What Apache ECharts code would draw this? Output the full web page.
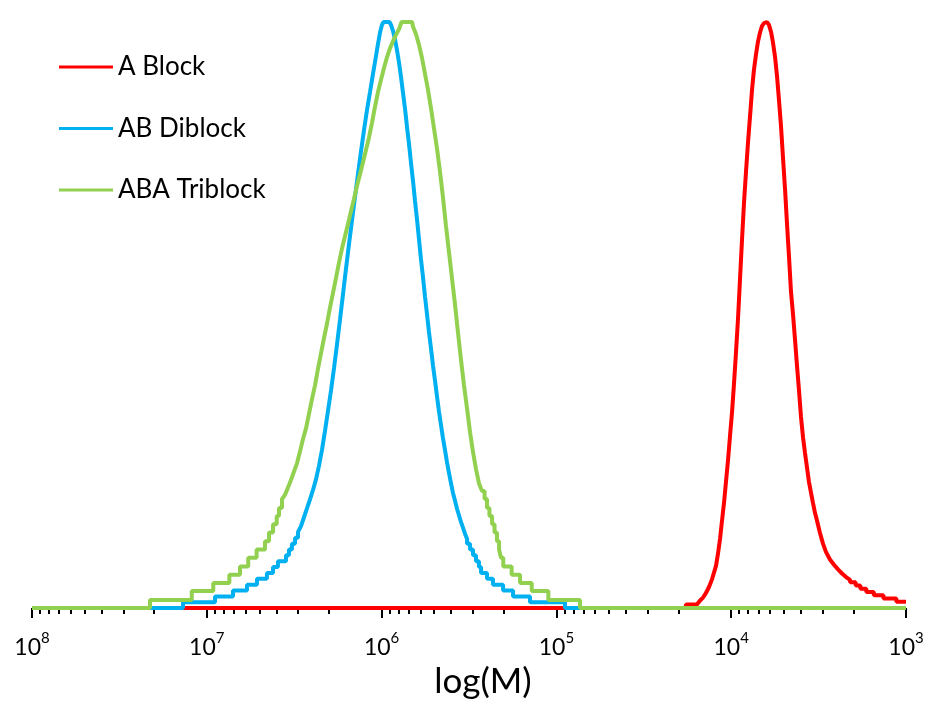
<!DOCTYPE html>
<html>
<head>
<meta charset="utf-8">
<script src="https://cdn.jsdelivr.net/npm/echarts@6/dist/echarts.min.js"></script>
<style>
  html, body { margin: 0; padding: 0; background: #ffffff; }
  #chart { width: 927px; height: 704px; }
</style>
</head>
<body>
<div id="chart"></div>
<script>
// Molecular weight distributions (GPC traces), normalised to the peak height.
const FONT = 'Lato, "Open Sans", sans-serif';

const seriesNames = ['A Block', 'AB Diblock', 'ABA Triblock'];
const seriesColors = ['#FF0000', '#00B0F0', '#92D050'];

// Decade exponents shown on the log(M) axis, and the minor-tick multipliers
const majorExponents = [8, 7, 6, 5, 4, 3];
const minorMultipliers = [2, 3, 4, 5, 6, 7, 8, 9];

// Each point: [log10(M), normalised signal in %]; repeated x values are detector steps
const aBlock = [
  [7.136, 0], [4.259, 0], [4.259, 0.6], [4.196, 0.6], [4.178, 1.3], [4.161, 1.8], [4.144, 2.6],
  [4.127, 3.6], [4.110, 4.9], [4.098, 6.1], [4.087, 7.2], [4.076, 9.2], [4.064, 11.8], [4.053, 14.8],
  [4.041, 18.0], [4.030, 21.5], [4.018, 25.3], [4.007, 29.3], [3.995, 33.5], [3.984, 38.3],
  [3.973, 43.4], [3.961, 49.4], [3.950, 55.9], [3.938, 62.9], [3.927, 69.0], [3.915, 74.6],
  [3.904, 79.4], [3.892, 84.0], [3.881, 88.4], [3.870, 91.8], [3.858, 94.5], [3.847, 96.6],
  [3.835, 98.2], [3.824, 99.3], [3.812, 99.8], [3.795, 100], [3.784, 99.5], [3.772, 98.3],
  [3.761, 96.5], [3.749, 94.0], [3.738, 90.8], [3.727, 86.8], [3.715, 82.2], [3.704, 77.0],
  [3.692, 71.5], [3.681, 65.7], [3.669, 59.8], [3.658, 54.0], [3.646, 50.0], [3.635, 45.8],
  [3.624, 41.5], [3.612, 37.1], [3.601, 32.7], [3.589, 29.1], [3.578, 26.5], [3.566, 23.9],
  [3.555, 21.5], [3.543, 19.6], [3.532, 17.9], [3.521, 16.3], [3.509, 14.9], [3.492, 12.8],
  [3.475, 11.0], [3.458, 9.6], [3.435, 8.3], [3.412, 7.4], [3.389, 6.6], [3.366, 5.9],
  [3.343, 5.3], [3.320, 4.8], [3.320, 4.4], [3.288, 4.4], [3.288, 3.85], [3.261, 3.85],
  [3.261, 3.3], [3.227, 3.3], [3.227, 2.75], [3.184, 2.75], [3.184, 2.2], [3.129, 2.2],
  [3.129, 1.65], [3.055, 1.65], [3.055, 1.1], [3.000, 1.1]
];

const abDiblock = [
  [8.000, 0], [7.136, 0], [7.136, 1], [6.953, 1], [6.953, 2], [6.850, 2], [6.850, 3], [6.770, 3],
  [6.770, 4], [6.713, 4], [6.713, 5], [6.656, 5], [6.656, 6], [6.621, 6], [6.621, 7], [6.593, 7],
  [6.593, 8], [6.547, 8], [6.547, 9], [6.530, 9], [6.530, 10], [6.513, 10], [6.513, 11], [6.495, 11],
  [6.495, 12], [6.478, 12], [6.478, 13],
  [6.461, 14], [6.444, 15.5], [6.427, 17], [6.410, 18.5], [6.392, 20.2], [6.375, 22], [6.358, 24.3],
  [6.341, 27], [6.324, 30.2], [6.307, 33.6], [6.289, 37.2], [6.272, 41], [6.255, 45], [6.238, 49.2],
  [6.221, 53.5], [6.204, 57.8], [6.187, 62], [6.169, 66.2], [6.152, 70.2], [6.135, 74.1],
  [6.118, 77.9], [6.101, 81.5], [6.084, 84.9], [6.066, 88.1], [6.049, 91.2], [6.032, 94.2],
  [6.021, 96.2], [6.009, 98.2], [5.998, 99.5], [5.989, 100], [5.955, 100], [5.946, 99.5],
  [5.935, 98.5], [5.923, 97.0], [5.912, 95.2], [5.900, 93.0], [5.889, 90.6], [5.878, 88.0],
  [5.866, 85.2], [5.855, 82.2], [5.843, 79.1], [5.832, 76.0], [5.820, 72.8], [5.809, 69.5],
  [5.797, 66.2], [5.786, 62.9], [5.775, 59.6], [5.763, 56.4], [5.752, 53.2], [5.740, 50.1],
  [5.729, 47.1], [5.717, 44.2], [5.706, 41.4], [5.694, 38.7], [5.683, 36.1], [5.672, 33.6],
  [5.660, 31.2], [5.649, 29.0], [5.637, 26.9], [5.626, 24.9], [5.614, 23.0], [5.603, 21.3],
  [5.592, 19.7], [5.580, 18.3], [5.569, 17.0], [5.557, 15.8], [5.546, 14.7], [5.534, 13.7],
  [5.523, 12.7], [5.511, 11.8],
  [5.511, 11], [5.494, 11], [5.494, 10], [5.477, 10], [5.477, 9], [5.460, 9], [5.460, 8],
  [5.443, 8], [5.443, 7], [5.431, 7], [5.431, 6], [5.397, 6], [5.397, 5], [5.363, 5], [5.363, 4],
  [5.305, 4], [5.305, 3], [5.248, 3], [5.248, 2], [5.151, 2], [5.151, 1], [4.951, 1], [4.951, 0],
  [4.865, 0]
];

const abaTriblock = [
  [8.000, 0], [7.325, 0], [7.325, 1.4], [7.086, 1.4], [7.086, 2.9], [6.963, 2.9], [6.963, 4.3],
  [6.871, 4.3], [6.871, 5.7], [6.810, 5.7], [6.810, 7.1], [6.763, 7.1], [6.763, 8.6], [6.715, 8.6],
  [6.715, 10.0], [6.667, 10.0], [6.667, 11.4], [6.644, 11.4], [6.644, 12.9], [6.621, 12.9],
  [6.621, 14.3], [6.600, 14.3], [6.600, 15.7], [6.587, 15.7], [6.587, 17.1], [6.570, 17.1],
  [6.570, 18.6],
  [6.553, 19.3], [6.535, 20.6], [6.518, 21.9], [6.501, 23.3], [6.484, 24.7], [6.467, 26.7],
  [6.450, 28.8], [6.432, 30.7], [6.415, 33.2], [6.398, 35.7], [6.381, 38.0], [6.364, 40.8],
  [6.347, 43.4], [6.330, 46.0], [6.312, 48.6], [6.295, 51.3], [6.278, 53.8], [6.261, 56.3],
  [6.244, 58.9], [6.227, 61.3], [6.209, 63.5], [6.192, 65.6], [6.175, 67.7], [6.158, 69.8],
  [6.141, 72.0], [6.124, 74.0], [6.106, 76.1], [6.089, 78.2], [6.072, 80.3], [6.055, 82.8],
  [6.038, 85.5], [6.021, 88.0], [6.003, 90.2], [5.986, 92.2], [5.969, 94.0], [5.952, 95.5],
  [5.935, 96.7], [5.918, 97.8], [5.900, 98.8], [5.886, 100], [5.826, 100], [5.820, 99.2],
  [5.803, 97.9], [5.786, 96.1], [5.769, 93.9], [5.752, 91.2], [5.735, 88.5], [5.717, 85.2],
  [5.700, 81.8], [5.683, 78.4], [5.666, 74.5], [5.649, 70.1], [5.632, 65.3], [5.614, 60.6],
  [5.597, 56.2], [5.580, 51.8], [5.563, 47.0], [5.546, 42.4], [5.529, 38.1], [5.511, 34.0],
  [5.494, 30.0], [5.477, 26.6], [5.460, 23.7], [5.443, 21.3],
  [5.426, 20.0], [5.411, 20.0], [5.411, 18.6], [5.397, 18.6], [5.397, 17.1], [5.383, 17.1],
  [5.383, 15.7], [5.368, 15.7], [5.368, 14.3], [5.354, 14.3], [5.354, 12.9], [5.340, 12.9],
  [5.340, 11.4], [5.328, 11.4], [5.328, 10.0], [5.317, 10.0], [5.317, 8.6], [5.304, 8.6],
  [5.304, 7.1], [5.256, 7.1], [5.256, 5.7], [5.208, 5.7], [5.208, 4.3], [5.141, 4.3],
  [5.141, 2.9], [5.046, 2.9], [5.046, 1.4], [4.865, 1.4], [4.865, 0], [3.000, 0]
];

// Minor ticks at 2..9 x 10^n, expressed on the log10 scale
const minorTicks = [];
for (let e = Math.min(...majorExponents); e < Math.max(...majorExponents); e++) {
  minorMultipliers.forEach(m => minorTicks.push(e + Math.log10(m)));
}

const chart = echarts.init(document.getElementById('chart'), null, { renderer: 'canvas' });

const lineWidth = 4;

chart.setOption({
  animation: false,
  backgroundColor: '#ffffff',
  textStyle: { fontFamily: FONT },
  grid: { left: 32, right: 21, top: 22, bottom: 91, containLabel: false },
  legend: {
    orient: 'vertical',
    left: 59,
    top: 52,
    padding: 0,
    icon: 'rect',
    itemWidth: 54,
    itemHeight: 3,
    itemGap: 31.5,
    data: seriesNames,
    textStyle: { fontSize: 26, fontFamily: FONT, color: '#000', lineHeight: 30 }
  },
  xAxis: [
    {
      type: 'value',
      min: Math.min(...majorExponents),
      max: Math.max(...majorExponents),
      interval: 1,
      inverse: true,
      position: 'bottom',
      axisLine: { show: true, onZero: false, lineStyle: { color: '#000', width: 1 } },
      axisTick: { show: true, length: 10, lineStyle: { color: '#000', width: 2 } },
      splitLine: { show: false },
      axisLabel: {
        margin: 23,
        color: '#000',
        formatter: v => '{b|10}{s|' + v + '}',
        rich: {
          b: { fontSize: 23, lineHeight: 28, fontFamily: FONT, color: '#000', verticalAlign: 'bottom' },
          s: { fontSize: 15, lineHeight: 12, fontFamily: FONT, color: '#000', verticalAlign: 'top' }
        }
      },
      name: 'log(M)',
      nameLocation: 'middle',
      nameGap: 55,
      nameTextStyle: { fontSize: 35, fontFamily: FONT, color: '#000', padding: [0, 0, 0, 28] }
    },
    {
      type: 'value',
      min: Math.min(...majorExponents),
      max: Math.max(...majorExponents),
      inverse: true,
      position: 'bottom',
      axisLine: { show: false },
      axisLabel: { show: false },
      splitLine: { show: false },
      axisTick: { show: true, length: 6, customValues: minorTicks, lineStyle: { color: '#000', width: 2 } }
    }
  ],
  yAxis: { type: 'value', min: 0, max: 100, show: false },
  series: [
    {
      name: seriesNames[0], type: 'line', data: aBlock, showSymbol: false, z: 2,
      color: seriesColors[0], lineStyle: { width: lineWidth, color: seriesColors[0] }
    },
    {
      name: seriesNames[1], type: 'line', data: abDiblock, showSymbol: false, z: 3,
      color: seriesColors[1], lineStyle: { width: lineWidth, color: seriesColors[1] }
    },
    {
      name: seriesNames[2], type: 'line', data: abaTriblock, showSymbol: false, z: 4,
      color: seriesColors[2], lineStyle: { width: lineWidth, color: seriesColors[2] }
    }
  ]
});
</script>
</body>
</html>
